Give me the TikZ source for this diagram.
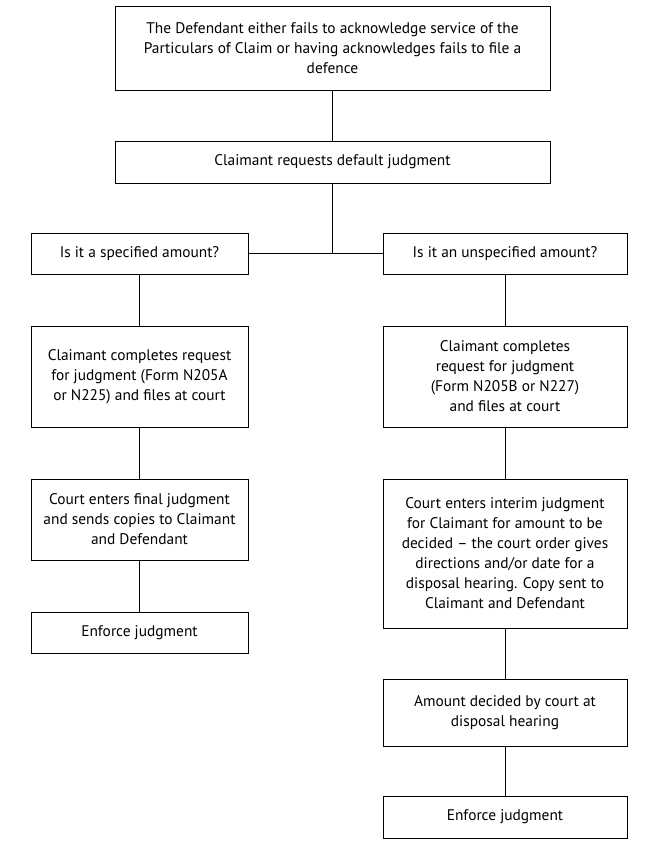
\documentclass[tikz,border=0pt]{standalone}
\usepackage{fontspec}
\setmainfont{PT Sans}
\usepackage{tikz}
\usetikzlibrary{arrows, positioning}

\begin{document}
\begin{tikzpicture}[x=1pt, y=-1pt, line width=1pt]
    \tikzstyle{box}=[shape=rectangle, draw=black, fill=none, text=black, align=center, inner sep=0pt, font=\fontsize{15.4}{20}\selectfont]
    \tikzstyle{wide}=[box, minimum width=435pt]
    \tikzstyle{left}=[box, minimum width=217pt]
    \tikzstyle{right}=[box, minimum width=244pt]

\useasboundingbox (0,0) rectangle (645,857);

\node[wide, minimum height=84pt]   (def) at (332.5, 48)     {The Defendant either fails to acknowledge service of the\\ Particulars of Claim or having acknowledges fails to file a\\ defence};
\node[wide, minimum height=42pt]   (req) at (332.5, 162)    {Claimant requests default judgment};
\coordinate                        (mid) at (332.5, 253.5);
\node[left, minimum height=41pt]   (spec) at (139.5, 253.5) {Is it a specified amount?};
\node[right, minimum height=41pt]  (unspec) at (505, 253.5) {Is it an unspecified amount?};
\node[left, minimum height=101pt]  (lform) at (139.5, 376.5) {Claimant completes request\\ for judgment (Form N205A\\ or N225) and files at court};
\node[right, minimum height=101pt] (rform) at (505, 376.5)   {Claimant completes\\ request for judgment\\ (Form N205B or N227)\\ and files at court};
\node[left, minimum height=81pt]   (lfinal) at (139.5, 519.5) {Court enters final judgment\\ and sends copies to Claimant\\ and Defendant};
\node[right, minimum height=149pt] (rinterim) at (505, 553.5) {Court enters interim judgment\\ for Claimant for amount to be\\ decided -- the court order gives\\ directions and/or date for a\\ disposal hearing. Copy sent to\\ Claimant and Defendant};
\node[left, minimum height=41pt]   (lenf) at (139.5, 632.5) {Enforce judgment};
\node[right, minimum height=67pt]  (ramount) at (505, 712.5) {Amount decided by court at\\ disposal hearing};
\node[right, minimum height=42pt]  (renf) at (505, 817)      {Enforce judgment};

\draw (def) -- (req);
\draw (req) -- (mid);
\draw (spec) -- (unspec);
\draw (spec) -- (lform);
\draw (lform) -- (lfinal);
\draw (lfinal) -- (lenf);
\draw (unspec) -- (rform);
\draw (rform) -- (rinterim);
\draw (rinterim) -- (ramount);
\draw (ramount) -- (renf);
\end{tikzpicture}
\end{document}
